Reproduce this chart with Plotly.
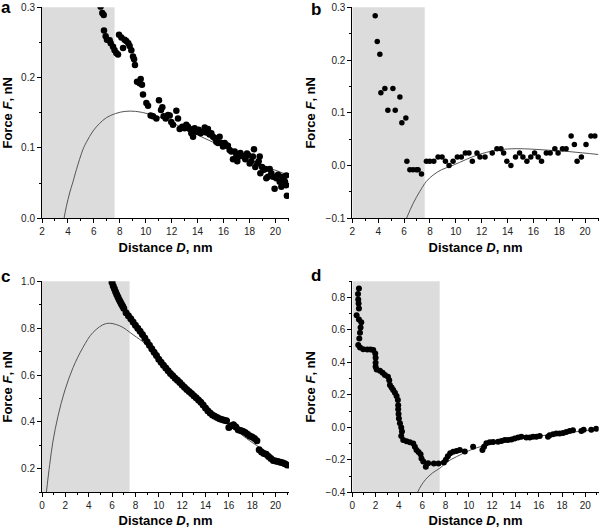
import plotly.graph_objects as go

# ---------------- Panel a ----------------
a_x = [6.52, 6.65, 6.76, 6.78, 6.91, 7.01, 7.22, 7.30, 7.48, 7.60, 7.73, 7.86, 7.94, 8.12, 8.25, 8.37,
       8.50, 8.66, 8.76, 8.89, 9.02, 9.10, 9.17, 9.33, 9.53, 9.61, 9.71, 9.79, 10.05, 10.18, 10.38,
       10.56, 10.82, 11.02, 11.18, 11.28, 11.38, 11.54, 11.72, 11.85, 11.97, 12.10, 12.36, 12.49,
       12.62, 12.82, 13.00, 13.13, 13.26, 13.39, 13.52, 13.65, 13.77, 13.95, 14.08, 14.24, 14.42,
       14.55, 14.67, 14.80, 14.93, 15.06, 15.19, 15.32, 15.44, 15.57, 15.70, 15.83, 15.96, 16.09,
       16.22, 16.34, 16.47, 16.60, 16.73, 16.86, 16.99, 17.06, 17.19, 17.30, 17.45, 17.55, 17.68,
       17.81, 17.89, 18.02, 18.14, 18.27, 18.35, 18.45, 18.61, 18.71, 18.79, 18.84, 18.97, 19.10,
       19.22, 19.30, 19.43, 19.56, 19.69, 19.82, 19.94, 20.07, 20.20, 20.33, 20.46, 20.53, 20.64,
       20.74, 20.84, 20.84, 20.89]
a_y = [0.301, 0.292, 0.289, 0.267, 0.259, 0.254, 0.253, 0.249, 0.244, 0.239, 0.235, 0.233, 0.261,
       0.257, 0.242, 0.254, 0.252, 0.249, 0.245, 0.239, 0.230, 0.226, 0.218, 0.194, 0.192, 0.198,
       0.190, 0.176, 0.164, 0.160, 0.146, 0.145, 0.142, 0.168, 0.154, 0.158, 0.145, 0.142, 0.147,
       0.146, 0.137, 0.133, 0.153, 0.142, 0.127, 0.130, 0.128, 0.133, 0.130, 0.127, 0.121, 0.116,
       0.128, 0.123, 0.126, 0.121, 0.123, 0.129, 0.122, 0.127, 0.119, 0.121, 0.116, 0.114, 0.109,
       0.107, 0.116, 0.107, 0.102, 0.107, 0.104, 0.103, 0.097, 0.095, 0.084, 0.095, 0.090, 0.081,
       0.088, 0.093, 0.089, 0.088, 0.084, 0.092, 0.090, 0.078, 0.081, 0.088, 0.098, 0.073, 0.078,
       0.081, 0.088, 0.064, 0.073, 0.069, 0.070, 0.057, 0.059, 0.070, 0.064, 0.059, 0.042, 0.057,
       0.062, 0.052, 0.045, 0.059, 0.054, 0.052, 0.061, 0.047, 0.032]
a_fit_x = [3.70, 3.88, 4.13, 4.39, 4.65, 5.16, 5.42, 5.93, 6.45, 6.96, 7.68, 8.40, 9.22, 10.30,
           11.59, 12.90, 14.16, 15.45, 16.73, 18.00, 19.30, 20.20, 21.05]
a_fit_y = [0.000, 0.017, 0.036, 0.052, 0.069, 0.098, 0.108, 0.124, 0.135, 0.143, 0.149, 0.152,
           0.152, 0.148, 0.140, 0.128, 0.117, 0.106, 0.095, 0.084, 0.073, 0.067, 0.061]

# ---------------- Panel b ----------------
b_x = [3.77, 3.93, 4.13, 4.21, 4.52, 4.75, 5.14, 5.32, 5.68, 5.83, 6.14, 6.22, 6.45, 6.70, 6.96,
       7.09, 7.35, 7.73, 7.99, 8.30, 8.63, 8.94, 9.20, 9.48, 9.79, 10.12, 10.43, 10.74, 11.02,
       11.28, 11.64, 11.87, 12.26, 12.82, 13.18, 13.49, 13.70, 13.95, 14.26, 14.62, 14.93, 15.19,
       15.50, 15.80, 16.09, 16.37, 16.63, 17.00, 17.30, 17.66, 17.91, 18.25, 18.53, 18.92, 19.17,
       19.38, 19.71, 20.07, 20.45, 20.75]
b_y = [0.284, 0.235, 0.211, 0.138, 0.146, 0.105, 0.146, 0.105, 0.130, 0.081, 0.090, 0.008, -0.008,
       -0.008, -0.008, -0.008, -0.016, 0.008, 0.008, 0.008, 0.016, 0.016, 0.008, 0.000, 0.008,
       0.016, 0.016, 0.024, 0.024, 0.008, 0.024, 0.016, 0.016, 0.024, 0.032, 0.032, 0.024, 0.008,
       0.000, 0.016, 0.024, 0.016, 0.008, 0.016, 0.024, 0.016, 0.008, 0.024, 0.024, 0.032, 0.024,
       0.032, 0.032, 0.056, 0.040, 0.008, 0.016, 0.040, 0.056, 0.056]
b_fit_x = [6.19, 6.70, 7.22, 7.73, 8.25, 8.89, 9.53, 10.30, 11.33, 12.36, 13.39, 14.67, 15.96,
           17.24, 18.53, 19.81, 21.02]
b_fit_y = [-0.100, -0.072, -0.049, -0.030, -0.018, -0.008, -0.002, 0.006, 0.017, 0.025, 0.030,
           0.032, 0.031, 0.029, 0.027, 0.024, 0.021]

# ---------------- Panel c ----------------
c_x = [6.0, 6.1, 6.2, 6.3, 6.4, 6.5, 6.6, 6.7, 6.8, 6.9, 7.0, 7.2, 7.4, 7.6, 7.8, 8.0, 8.2, 8.4,
       8.6, 8.8, 9.0, 9.2, 9.4, 9.6, 9.8, 10.0, 10.2, 10.4, 10.6, 10.8, 11.0, 11.2, 11.4, 11.6,
       11.8, 12.0, 12.2, 12.4, 12.6, 12.8, 13.0, 13.2, 13.4, 13.6, 13.8, 14.0, 14.2, 14.4, 14.6,
       14.8, 15.0, 15.2, 15.4, 15.6, 15.8, 16.0, 16.2, 16.4, 16.6, 16.8, 17.0, 17.2, 17.4, 17.6,
       17.8, 18.0, 18.2, 18.4, 18.6, 18.8, 19.0, 19.2, 19.4, 19.6, 19.8, 20.0, 20.2, 20.4, 20.6,
       20.8, 21.0]
c_y = [0.995, 0.980, 0.968, 0.955, 0.944, 0.933, 0.922, 0.913, 0.903, 0.895, 0.885, 0.866, 0.853,
       0.840, 0.826, 0.813, 0.800, 0.787, 0.773, 0.758, 0.742, 0.727, 0.712, 0.697, 0.683, 0.668,
       0.655, 0.642, 0.630, 0.618, 0.607, 0.597, 0.587, 0.578, 0.568, 0.558, 0.548, 0.538, 0.530,
       0.521, 0.512, 0.503, 0.494, 0.484, 0.472, 0.460, 0.448, 0.438, 0.430, 0.424, 0.419, 0.414,
       0.410, 0.407, 0.405, 0.376, 0.384, 0.388, 0.378, 0.367, 0.364, 0.360, 0.355, 0.348, 0.340,
       0.336, 0.330, 0.320, 0.282, 0.272, 0.266, 0.262, 0.253, 0.244, 0.236, 0.234, 0.231, 0.228,
       0.226, 0.222, 0.216]
c_fit_x = [0.37, 0.66, 0.94, 1.37, 1.94, 2.66, 3.51, 4.37, 5.51, 6.66, 7.80, 8.94, 10.66, 12.00,
           13.51, 14.80, 16.37, 17.50, 18.66, 21.09]
c_fit_y = [0.097, 0.219, 0.318, 0.425, 0.532, 0.632, 0.718, 0.782, 0.820, 0.810, 0.772, 0.729,
           0.632, 0.560, 0.487, 0.432, 0.375, 0.330, 0.290, 0.204]

# ---------------- Panel d ----------------
d_x = [0.57, 0.49, 0.51, 0.54, 0.57, 0.37, 0.57, 0.77, 0.71, 0.66, 0.60, 0.51, 0.66, 0.94, 1.29,
       1.57, 1.80, 1.97, 2.00, 2.00, 2.00, 2.09, 2.37, 2.60, 2.80, 3.06, 3.17, 3.23, 3.37, 3.51,
       3.66, 3.80, 3.91, 3.94, 3.94, 3.97, 4.00, 4.09, 4.20, 4.26, 4.20, 4.37, 4.66, 4.94, 5.23,
       5.37, 5.51, 5.69, 5.86, 5.94, 6.09, 6.31, 6.51, 7.00, 7.40, 7.86, 8.03, 8.20, 8.40, 8.66,
       8.94, 9.23, 9.66, 10.37, 11.17, 11.31, 11.51, 11.80, 12.09, 12.51, 12.80, 13.09, 13.37,
       13.66, 13.94, 14.23, 14.51, 14.94, 15.23, 15.51, 15.80, 16.09, 16.80, 16.94, 17.23, 17.51,
       17.80, 18.09, 18.37, 18.66, 18.94, 19.66, 19.86, 20.51, 20.94]
d_y = [0.855, 0.821, 0.788, 0.763, 0.732, 0.691, 0.665, 0.648, 0.615, 0.583, 0.548, 0.507, 0.492,
       0.482, 0.480, 0.480, 0.476, 0.455, 0.429, 0.398, 0.373, 0.357, 0.349, 0.336, 0.322, 0.312,
       0.291, 0.261, 0.246, 0.230, 0.213, 0.193, 0.168, 0.137, 0.111, 0.082, 0.054, 0.025, 0.000,
       -0.026, -0.053, -0.078, -0.086, -0.092, -0.100, -0.119, -0.139, -0.152, -0.166, -0.191,
       -0.211, -0.242, -0.221, -0.223, -0.223, -0.217, -0.200, -0.178, -0.160, -0.150, -0.145,
       -0.139, -0.149, -0.119, -0.139, -0.119, -0.098, -0.092, -0.090, -0.088, -0.084, -0.078,
       -0.078, -0.074, -0.068, -0.062, -0.058, -0.062, -0.062, -0.058, -0.058, -0.053, -0.058,
       -0.048, -0.042, -0.038, -0.038, -0.034, -0.028, -0.022, -0.018, -0.022, -0.014, -0.014,
       -0.008]
d_fit_x = [5.60, 5.90, 6.30, 6.90, 7.51, 8.20, 8.94, 10.37, 11.80, 13.23, 14.66, 16.09, 17.51,
           18.94, 20.94]
d_fit_y = [-0.400, -0.360, -0.320, -0.280, -0.252, -0.210, -0.181, -0.133, -0.104, -0.084,
           -0.068, -0.053, -0.041, -0.029, -0.012]

FONT = "Liberation Sans, Arial, sans-serif"
fig = go.Figure()

panels = [
    dict(xa="x", ya="y", dx=a_x, dy=a_y, fx=a_fit_x, fy=a_fit_y, ms=6.5),
    dict(xa="x2", ya="y2", dx=b_x, dy=b_y, fx=b_fit_x, fy=b_fit_y, ms=5.5),
    dict(xa="x3", ya="y3", dx=c_x, dy=c_y, fx=c_fit_x, fy=c_fit_y, ms=7),
    dict(xa="x4", ya="y4", dx=d_x, dy=d_y, fx=d_fit_x, fy=d_fit_y, ms=6),
]
for p in panels:
    fig.add_trace(go.Scatter(x=p["fx"], y=p["fy"], xaxis=p["xa"], yaxis=p["ya"], mode="lines",
                             line=dict(color="#555555", width=1, shape="spline"),
                             showlegend=False, hoverinfo="skip"))
    fig.add_trace(go.Scatter(x=p["dx"], y=p["dy"], xaxis=p["xa"], yaxis=p["ya"], mode="markers",
                             marker=dict(color="black", size=p["ms"]), showlegend=False,
                             cliponaxis=True))

# shaded regions
shade = [("x", "y", 2, 7.6), ("x2", "y2", 2, 7.6), ("x3", "y3", 0, 7.5), ("x4", "y4", 0, 7.5)]
for xr, yr, x0, x1 in shade:
    fig.add_shape(type="rect", xref=xr, yref=yr + " domain", x0=x0, x1=x1, y0=0, y1=1,
                  fillcolor="#dcdcdc", line=dict(width=0), layer="below")

xcol_l = [42 / 600, 289 / 600]
xcol_r = [352.3 / 600, 598.7 / 600]
yrow_t = [1 - 218.3 / 528, 1 - 7.3 / 528]
yrow_b = [1 - 492.3 / 528, 1 - 281.3 / 528]

def xax(domain, rng, anchor):
    return dict(domain=domain, range=rng, anchor=anchor, showline=True, linecolor="black",
                linewidth=1, ticks="outside", ticklen=4, tickwidth=1, tickcolor="black",
                dtick=2, tick0=0, minor=dict(ticks="outside", ticklen=2, dtick=1, tick0=0,
                                             tickcolor="black"),
                showgrid=False, zeroline=False, automargin=False,
                tickfont=dict(family=FONT, size=10, color="#222222"),
                title=dict(text="<b>Distance <i>D</i>, nm</b>", standoff=6,
                           font=dict(family=FONT, size=13, color="black")))

def yax(domain, rng, anchor, dtick, minor, fmt):
    return dict(domain=domain, range=rng, anchor=anchor, showline=True, linecolor="black",
                linewidth=1, ticks="outside", ticklen=4, tickwidth=1, tickcolor="black",
                dtick=dtick, tick0=0, tickformat=fmt,
                minor=dict(ticks="outside", ticklen=2, dtick=minor, tick0=0, tickcolor="black"),
                showgrid=False, zeroline=False, automargin=False,
                tickfont=dict(family=FONT, size=10, color="#222222"),
                title=dict(text="<b>Force <i>F</i>, nN</b>", standoff=6,
                           font=dict(family=FONT, size=13, color="black")))

fig.update_layout(
    width=600, height=528, margin=dict(l=0, r=0, t=0, b=0),
    paper_bgcolor="white", plot_bgcolor="white",
    xaxis=xax(xcol_l, [2, 21.05], "y"),
    yaxis=yax(yrow_t, [0, 0.3], "x", 0.1, 0.05, ".1f"),
    xaxis2=xax(xcol_r, [2, 21.05], "y2"),
    yaxis2=yax(yrow_t, [-0.1, 0.3], "x2", 0.1, 0.05, ".1f"),
    xaxis3=xax(xcol_l, [0, 21.15], "y3"),
    yaxis3=yax(yrow_b, [0.1, 1.0], "x3", 0.2, 0.1, ".1f"),
    xaxis4=xax(xcol_r, [0, 21.15], "y4"),
    yaxis4=yax(yrow_b, [-0.4, 0.9], "x4", 0.2, 0.1, ".1f"),
)

letters = [("a", 0.0, 1 - 18 / 528), ("b", 310 / 600, 1 - 20 / 528),
           ("c", 0.0, 1 - 287 / 528), ("d", 310 / 600, 1 - 286 / 528)]
for t, x, y in letters:
    fig.add_annotation(text="<b>%s</b>" % t, x=x, y=y, xref="paper", yref="paper",
                       xanchor="left", yanchor="bottom", showarrow=False, borderpad=0,
                       font=dict(family=FONT, size=17, color="black"))

fig.write_html("out.html", config={"displayModeBar": False},
               post_script="document.body.style.margin='0';document.body.style.overflow='hidden';")
